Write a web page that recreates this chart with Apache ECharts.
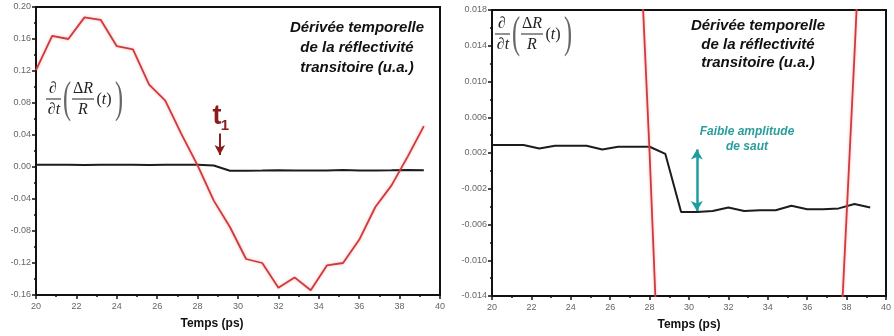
<!DOCTYPE html>
<html><head><meta charset="utf-8">
<script src="https://cdn.jsdelivr.net/npm/echarts@6/dist/echarts.min.js"></script>
<style>html,body{margin:0;padding:0;background:#fff}#c{width:894px;height:336px}</style>
</head><body><div id="c"></div>
<script>
// ---- data ----
const timesPs = [20.0,20.8,21.6,22.4,23.2,24.0,24.8,25.6,26.4,27.2,28.0,28.8,29.6,30.4,31.2,32.0,32.8,33.6,34.4,35.2,36.0,36.8,37.6,38.4,39.2];
const redDerivative = [0.121,0.164,0.160,0.187,0.184,0.151,0.147,0.103,0.083,0.041,0.002,-0.042,-0.075,-0.115,-0.120,-0.151,-0.138,-0.154,-0.123,-0.120,-0.091,-0.050,-0.023,0.013,0.051];
const blackDerivative = [0.0029,0.0029,0.0029,0.0025,0.0028,0.0028,0.0028,0.0024,0.0027,0.0027,0.0027,0.0019,-0.0046,-0.0046,-0.0045,-0.0041,-0.0045,-0.0044,-0.0044,-0.0039,-0.0043,-0.0043,-0.0042,-0.0037,-0.0041];
const xRange = [20, 40, 2];
const leftYRange = [-0.16, 0.20, 0.04];
const rightYRange = [-0.014, 0.018, 0.004];
const t1Arrow = [29.1, 0.042, 0.015];
const jumpArrow = [30.4, 0.0024, -0.0045];
const titleText = 'Dérivée temporelle\nde la réflectivité\ntransitoire (u.a.)';
const jumpText = 'Faible amplitude\nde saut';
const xName = 'Temps (ps)';

const redPts = timesPs.map((t, i) => [t, redDerivative[i]]);
const blackPts = timesPs.map((t, i) => [t, blackDerivative[i]]);

const SANS = 'Liberation Sans';
const SERIF = 'Liberation Serif';

function xAxisFor(gi, namePad) {
  return {
    type: 'value', gridIndex: gi, min: xRange[0], max: xRange[1], interval: xRange[2],
    axisLine: {show: true, onZero: false, lineStyle: {color: '#111', width: 2}},
    axisTick: {show: true, length: 4, lineStyle: {color: '#111', width: 1.5}},
    minorTick: {show: true, splitNumber: 2, length: 2, lineStyle: {color: '#111', width: 1.5}},
    axisLabel: {fontSize: 9, color: '#666', margin: 7, fontFamily: SANS},
    splitLine: {show: false}, minorSplitLine: {show: false},
    name: xName, nameLocation: 'middle', nameGap: 23,
    nameTextStyle: {fontSize: 12, fontWeight: 'bold', color: '#111', fontFamily: SANS, padding: namePad}
  };
}
function yAxisFor(gi, r, dec) {
  return {
    type: 'value', gridIndex: gi, min: r[0], max: r[1], interval: r[2],
    axisLine: {show: true, onZero: false, lineStyle: {color: '#111', width: 2}},
    axisTick: {show: true, length: 4, lineStyle: {color: '#111', width: 1.5}},
    minorTick: {show: true, splitNumber: 2, length: 2, lineStyle: {color: '#111', width: 1.5}},
    axisLabel: {fontSize: 9, color: '#666', margin: 5, fontFamily: SANS,
      formatter: v => (Math.abs(v) < 1e-9 ? 0 : v).toFixed(dec)},
    splitLine: {show: false}
  };
}

function formula(x0, y0) {
  const c = '#222';
  const t = (x, y, text, rich) => ({type: 'text', x: x, y: y,
    style: {text: text, rich: rich, fill: c, align: 'center', verticalAlign: 'middle', font: '16px ' + SERIF}});
  const up = {fontSize: 16, fontFamily: SERIF, fill: c};
  const it = {fontSize: 16, fontFamily: SERIF, fontStyle: 'italic', fill: c};
  return {
    type: 'group', x: x0, y: y0, silent: true, children: [
      t(7, -10, '{u|∂}', {u: up}),
      {type: 'line', shape: {x1: 0, y1: 0, x2: 15, y2: 0}, style: {stroke: c, lineWidth: 1}},
      t(8, 11, '{u|∂}{i|t}', {u: up, i: it}),
      {type: 'text', x: 21, y: 1, scaleX: 0.55, style: {text: '(', fill: '#666', align: 'center', verticalAlign: 'middle', font: '44px ' + SERIF}},
      t(37, -10, '{u|Δ}{i|R}', {u: up, i: it}),
      {type: 'line', shape: {x1: 26, y1: 0, x2: 48, y2: 0}, style: {stroke: c, lineWidth: 1}},
      t(37, 11, '{i|R}', {i: it}),
      t(58, 1, '{u|(}{i|t}{u|)}', {u: up, i: it}),
      {type: 'text', x: 73, y: 1, scaleX: 0.55, style: {text: ')', fill: '#666', align: 'center', verticalAlign: 'middle', font: '44px ' + SERIF}}
    ]
  };
}

const redStyle = {color: '#d03a3c', width: 1.8, shadowColor: 'rgba(230,90,90,0.45)', shadowBlur: 3};
const blackStyle = {color: '#1c1c1c', width: 2};

const option = {
  animation: false,
  backgroundColor: '#fff',
  grid: [
    {left: 36, top: 7, width: 404, height: 288, show: true, borderColor: '#111', borderWidth: 2, backgroundColor: 'transparent'},
    {left: 492, top: 10, width: 403, height: 286, show: true, borderColor: '#111', borderWidth: 2, backgroundColor: 'transparent'}
  ],
  xAxis: [xAxisFor(0, [0, 52, 0, 0]), xAxisFor(1, [0, 0, 0, 0])],
  yAxis: [yAxisFor(0, leftYRange, 2), yAxisFor(1, rightYRange, 3)],
  series: [
    {type: 'line', xAxisIndex: 0, yAxisIndex: 0, data: blackPts, symbol: 'none', lineStyle: blackStyle, z: 2,
      markLine: {silent: true, symbol: ['none', 'arrow'], symbolSize: [8, 10], label: {show: false},
        lineStyle: {color: '#8b1c1c', width: 2, type: 'solid'},
        data: [[{coord: [t1Arrow[0], t1Arrow[1]]}, {coord: [t1Arrow[0], t1Arrow[2]]}]]}},
    {type: 'line', xAxisIndex: 0, yAxisIndex: 0, data: redPts, symbol: 'none', lineStyle: redStyle, z: 3},
    {type: 'line', xAxisIndex: 1, yAxisIndex: 1, data: blackPts, symbol: 'none', lineStyle: blackStyle, z: 2,
      markLine: {silent: true, symbol: ['arrow', 'arrow'], symbolSize: [9, 10], label: {show: false},
        lineStyle: {color: '#1f9c9c', width: 2.5, type: 'solid'},
        data: [[{coord: [jumpArrow[0], jumpArrow[1]]}, {coord: [jumpArrow[0], jumpArrow[2]]}]]}},
    {type: 'line', xAxisIndex: 1, yAxisIndex: 1, data: redPts, symbol: 'none', lineStyle: redStyle, z: 3, clip: true}
  ],
  graphic: [
    {type: 'text', x: 357, y: 18, silent: true, style: {text: titleText, align: 'center', verticalAlign: 'top',
      font: 'italic bold 15px ' + SANS, lineHeight: 20, fill: '#111'}},
    {type: 'text', x: 758, y: 17, silent: true, style: {text: titleText, align: 'center', verticalAlign: 'top',
      font: 'italic bold 15px ' + SANS, lineHeight: 18.5, fill: '#111'}},
    {type: 'text', x: 747, y: 124, silent: true, style: {text: jumpText, align: 'center', verticalAlign: 'top',
      font: 'italic bold 12px ' + SANS, lineHeight: 15, fill: '#2a9d9d'}},
    {type: 'text', x: 217, y: 117, silent: true, style: {text: 't', align: 'center', verticalAlign: 'middle',
      font: 'bold 27px ' + SANS, fill: '#8b1c1c'}},
    {type: 'text', x: 225, y: 126, silent: true, style: {text: '1', align: 'center', verticalAlign: 'middle',
      font: 'bold 15px ' + SANS, fill: '#8b1c1c'}},
    formula(46, 99),
    formula(495, 34)
  ]
};

const chart = echarts.init(document.getElementById('c'), null, {renderer: 'canvas'});
chart.setOption(option);
</script>
</body></html>
